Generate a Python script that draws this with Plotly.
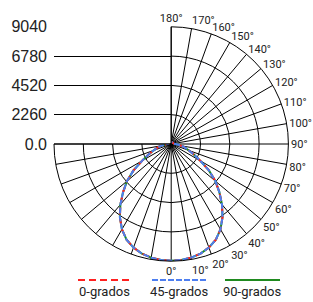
import plotly.graph_objects as go

# ---- data ----
angles = [0, 5, 10, 15, 20, 25, 30, 35, 40, 45, 50, 55, 60, 65, 70, 75, 80, 85, 90,
          95, 100, 110, 120, 130, 140, 150, 160, 170, 180]
grados_0 = [9000, 8980, 8900, 8750, 8500, 8150, 7600, 6900, 6100, 5250, 4450, 3550, 2600,
            1950, 1450, 1100, 800, 500, 300, 220, 200, 180, 170, 160, 150, 150, 140, 140, 140]
grados_45 = [9000, 8980, 8900, 8750, 8500, 8150, 7600, 6900, 6100, 5250, 4450, 3550, 2600,
             1950, 1450, 1100, 800, 500, 300, 220, 200, 180, 170, 160, 150, 150, 140, 140, 140]
grados_90 = [9000, 8980, 8900, 8750, 8500, 8150, 7600, 6900, 6100, 5250, 4450, 3550, 2600,
             1950, 1450, 1100, 800, 500, 300, 220, 200, 180, 170, 160, 150, 150, 140, 140, 140]
series_names = ["0-grados", "45-grados", "90-grados"]
radial_ticks = [0, 2260, 4520, 6780, 9040]
radial_labels = ["0.0", "2260", "4520", "6780", "9040"]
angle_ticks = list(range(0, 190, 10))
blank_ticks = list(range(-90, 0, 10))

W, H = 313, 302
cx, cy, R = 171.2, 144.0, 117.2


def fx(px):
    return px / W


def fy(py):
    return (H - py) / H


def full(vals):
    # mirror: left half uses negative angles
    th = [-a for a in reversed(angles)] + angles[1:]
    r = list(reversed(vals)) + vals[1:]
    return th, r


fig = go.Figure()
styles = {
    "90-grados": dict(color="#1f8a1f", dash="solid"),
    "0-grados": dict(color="#ff2020", dash="7px,4px"),
    "45-grados": dict(color="#4d7ef0", dash="6px,2px"),
}
data = {"0-grados": grados_0, "45-grados": grados_45, "90-grados": grados_90}
for name in ["90-grados", "0-grados", "45-grados"]:
    th, r = full(data[name])
    fig.add_trace(go.Scatterpolar(
        theta=th, r=r, mode="lines", name=name, showlegend=False,
        line=dict(color=styles[name]["color"], dash=styles[name]["dash"], width=2),
    ))

# left-side horizontal scale
fig.add_trace(go.Scatter(x=[0, 1], y=[0, 0], mode="lines", line=dict(width=0),
                         showlegend=False, hoverinfo="skip", xaxis="x", yaxis="y"))

fig.update_layout(
    width=W, height=H,
    margin=dict(l=0, r=0, t=0, b=0, autoexpand=False),
    paper_bgcolor="white", plot_bgcolor="rgba(0,0,0,0)",
    showlegend=False,
    polar=dict(
        domain=dict(x=[fx(cx - R), fx(cx + R)], y=[fy(cy + R), fy(cy - R)]),
        sector=[-180, 90],
        bgcolor="white",
        angularaxis=dict(
            rotation=-90, direction="counterclockwise",
            tickmode="array",
            tickvals=blank_ticks + angle_ticks,
            ticktext=["" for _ in blank_ticks] + [f"{a}°" for a in angle_ticks],
            showline=True, linecolor="black", linewidth=1,
            showgrid=True, gridcolor="black", gridwidth=1,
            ticks="",
            tickfont=dict(family="Roboto", size=11, color="#222"),
        ),
        radialaxis=dict(
            range=[0, 9040], tickvals=radial_ticks, showticklabels=False,
            ticks="", showline=False, showgrid=True, gridcolor="black", gridwidth=1,
        ),
    ),
    xaxis=dict(domain=[fx(cx - R), fx(cx)], range=[0, 1], visible=False),
    yaxis=dict(domain=[fy(cy), fy(cy - R)], range=[0, 9040], automargin=False,
               tickvals=radial_ticks, ticktext=radial_labels,
               showgrid=True, gridcolor="black", gridwidth=1, zeroline=False,
               showline=False, ticks="", ticklabelstandoff=6,
               tickfont=dict(family="Liberation Sans, Arial", size=16, color="#222")),
)

# custom legend: line sample above label
legend_items = [
    ("0-grados", 78, 132, 104),
    ("45-grados", 152, 207, 179),
    ("90-grados", 225, 280, 252),
]
for name, x0, x1, xc in legend_items:
    st = styles[name]
    fig.add_shape(type="line", xref="paper", yref="paper",
                  x0=fx(x0), x1=fx(x1), y0=fy(280), y1=fy(280),
                  line=dict(color=st["color"], width=2, dash=st["dash"]))
    fig.add_annotation(text=name, xref="paper", yref="paper", x=fx(xc), y=fy(291),
                       showarrow=False, xanchor="center", yanchor="middle",
                       font=dict(family="Roboto", size=13, color="#222"))

fig.write_html("out.html",
               config={"displayModeBar": False},
               post_script="document.body.style.margin='0';document.body.style.overflow='hidden';")
